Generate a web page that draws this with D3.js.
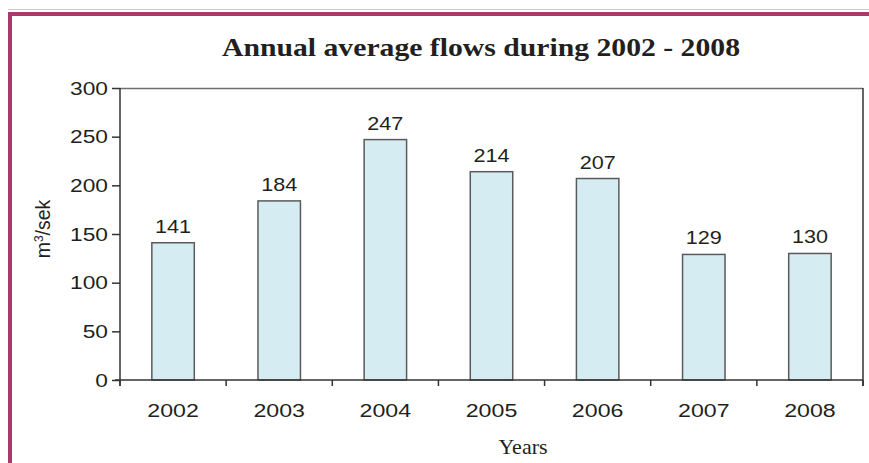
<!DOCTYPE html>
<html>
<head>
<meta charset="utf-8">
<script src="https://cdn.jsdelivr.net/npm/d3@7/dist/d3.min.js"></script>
<style>
  html, body { margin: 0; padding: 0; background: #fff; }
  svg { display: block; }
</style>
</head>
<body>
<script>
// Annual average flows, m³/sek
const years = ["2002", "2003", "2004", "2005", "2006", "2007", "2008"];
const flows = [141, 184, 247, 214, 207, 129, 130];
const yTicks = [0, 50, 100, 150, 200, 250, 300];

const W = 869, H = 463;
const margin = { left: 120, right: 6, top: 88, bottom: 83 };

const svg = d3.select("body").append("svg")
  .attr("width", W).attr("height", H);

// page frame: thin grey rule and magenta border
svg.append("line").attr("x1", 8).attr("x2", W).attr("y1", 9.5).attr("y2", 9.5)
  .attr("stroke", "#c9c9c9").attr("stroke-width", 1);
svg.append("rect").attr("x", 8).attr("y", 12).attr("width", W - 8).attr("height", 4)
  .attr("fill", "#a93a6b");
svg.append("rect").attr("x", 8).attr("y", 12).attr("width", 4).attr("height", H - 12)
  .attr("fill", "#a93a6b");

const x = d3.scaleBand().domain(years)
  .range([margin.left, W - margin.right]).paddingInner(0.6).paddingOuter(0.3);
const xBound = d3.scaleBand().domain(years)
  .range([margin.left, W - margin.right]);
const y = d3.scaleLinear().domain([0, 300]).range([H - margin.bottom, margin.top]);

const sans = "'Liberation Sans', Arial, sans-serif";
const serif = "'Liberation Serif', 'Times New Roman', serif";
const ink = "#231f20";

// plot frame (top grey, right dark)
svg.append("line")
  .attr("x1", margin.left).attr("x2", W - margin.right)
  .attr("y1", y(300) + 0.5).attr("y2", y(300) + 0.5)
  .attr("stroke", "#6e6e6e").attr("stroke-width", 1.5);
svg.append("line")
  .attr("x1", W - margin.right).attr("x2", W - margin.right)
  .attr("y1", y(300)).attr("y2", y(0) + 6)
  .attr("stroke", "#333").attr("stroke-width", 1.5);

// bars
svg.append("g").selectAll("rect").data(years).join("rect")
  .attr("x", d => x(d))
  .attr("y", (d, i) => y(flows[i]))
  .attr("width", x.bandwidth())
  .attr("height", (d, i) => y(0) - y(flows[i]))
  .attr("fill", "#d6ecf3")
  .attr("stroke", "#5a5a5a").attr("stroke-width", 1.5);

// value labels
svg.append("g").selectAll("text").data(years).join("text")
  .attr("transform", (d, i) => `translate(${x(d) + x.bandwidth() / 2},${y(flows[i]) - 10}) scale(1.2,1)`)
  .attr("text-anchor", "middle")
  .attr("font-family", sans).attr("font-size", 18).attr("fill", ink)
  .text((d, i) => flows[i]);

// y axis
const yAxis = svg.append("g")
  .attr("transform", `translate(${margin.left},0)`)
  .call(d3.axisLeft(y).tickValues(yTicks).tickSize(8).tickSizeOuter(0).tickPadding(4));
yAxis.select(".domain").attr("stroke", "#333").attr("stroke-width", 1.5)
  .attr("d", `M0,${y(300)}V${y(0) + 6}`);
yAxis.selectAll(".tick line").attr("stroke", "#333").attr("stroke-width", 1.5);
yAxis.selectAll(".tick text")
  .attr("font-family", sans).attr("font-size", 17.5).attr("fill", ink)
  .attr("transform", "scale(1.3,1)")
  .attr("x", -12 / 1.3).attr("dy", "0.36em");

// x axis with ticks at category boundaries
const xg = svg.append("g").attr("transform", `translate(0,${y(0)})`);
xg.append("line").attr("x1", margin.left - 5).attr("x2", W - margin.right)
  .attr("stroke", "#333").attr("stroke-width", 1.5);
const bounds = years.map(d => xBound(d)).concat([W - margin.right]);
xg.selectAll("line.b").data(bounds).join("line").attr("class", "b")
  .attr("x1", d => d).attr("x2", d => d).attr("y1", 0).attr("y2", 6)
  .attr("stroke", "#333").attr("stroke-width", 1.5);
xg.selectAll("text").data(years).join("text")
  .attr("transform", d => `translate(${xBound(d) + xBound.bandwidth() / 2},37) scale(1.22,1)`)
  .attr("text-anchor", "middle")
  .attr("font-family", sans).attr("font-size", 19).attr("fill", ink)
  .text(d => d);

// axis titles
svg.append("text")
  .attr("transform", `translate(50,229) rotate(-90)`)
  .attr("text-anchor", "middle")
  .attr("font-family", sans).attr("font-size", 19.5).attr("fill", ink)
  .html('m<tspan baseline-shift="super" font-size="12">3</tspan>/sek');

svg.append("text")
  .attr("x", 523).attr("y", 454)
  .attr("text-anchor", "middle")
  .attr("font-family", serif).attr("font-size", 22).attr("fill", ink)
  .text("Years");

// title
svg.append("text")
  .attr("x", 481).attr("y", 56)
  .attr("text-anchor", "middle")
  .attr("font-family", serif).attr("font-size", 26).attr("font-weight", "bold").attr("fill", ink)
  .attr("textLength", 518).attr("lengthAdjust", "spacingAndGlyphs")
  .text("Annual average flows during 2002 - 2008");
</script>
</body>
</html>
